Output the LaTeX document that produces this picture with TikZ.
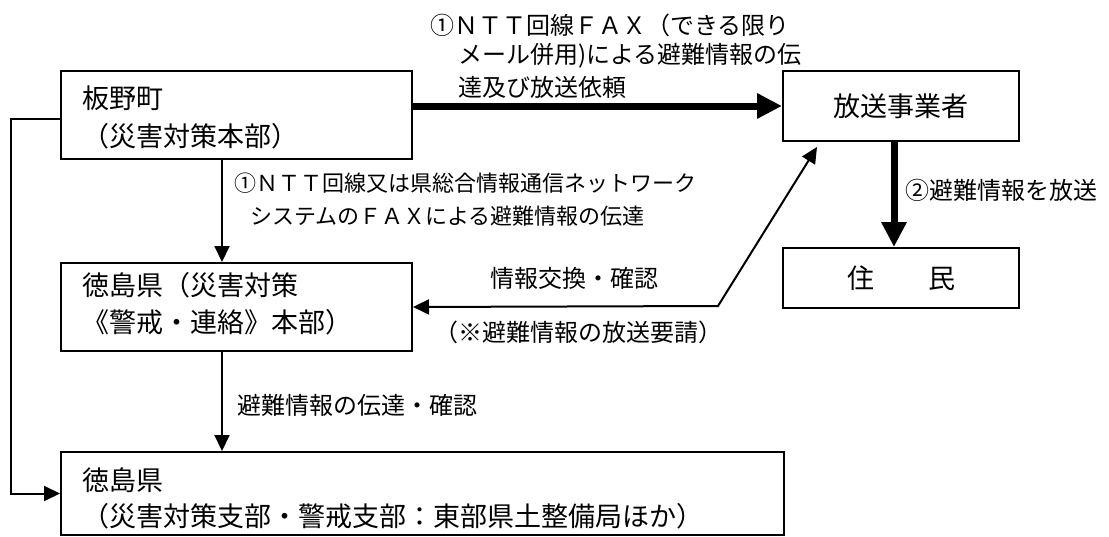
\documentclass[tikz,border=0pt]{standalone}
\usepackage{fontspec}
\newfontfamily\jp{Noto Sans CJK JP}
\usetikzlibrary{arrows.meta}
\begin{document}
\begin{tikzpicture}[x=1pt,y=-1pt,
  box/.style={draw, line width=2pt, anchor=north west, inner sep=0pt},
  btxt/.style={font=\jp\fontsize{27}{27}\selectfont, inner sep=0pt, anchor=west},
  ltxt/.style={font=\jp\fontsize{24}{24}\selectfont, inner sep=0pt, anchor=west},
  stxt/.style={font=\jp\fontsize{22}{22}\selectfont, inner sep=0pt, anchor=west},
  thinarr/.style={line width=2pt, -{Triangle[length=16pt,width=15pt]}},
  bigarr/.style={line width=7pt, -{Triangle[length=25pt,width=24pt]}},
]
\useasboundingbox (0,0) rectangle (1109,536);
% boxes
\node[box, minimum width=351pt, minimum height=88pt] (b1) at (60,70) {};
\node[btxt] (b1a) at (82,98) {板野町};
\node[btxt] (b1b) at (82,136) {（災害対策本部）};
\node[box, minimum width=351pt, minimum height=88pt] (b2) at (60,262) {};
\node[btxt] (b2a) at (82,285) {徳島県（災害対策};
\node[btxt] (b2b) at (82,322) {《警戒・連絡》本部）};
\node[box, minimum width=723pt, minimum height=83pt] (b3) at (60,451) {};
\node[btxt] (b3a) at (82,480) {徳島県};
\node[btxt] (b3b) at (82,516) {（災害対策支部・警戒支部：東部県土整備局ほか）};
\node[box, minimum width=236pt, minimum height=70pt, font=\jp\fontsize{27}{27}\selectfont] (h) at (782,70) {放送事業者};
\node[box, minimum width=236pt, minimum height=60pt, font=\jp\fontsize{27}{27}\selectfont] (j) at (782,247) {住　　民};
% helper coordinates
\coordinate (vx) at (222,0);
\coordinate (dx) at (894,0);
\coordinate (lx) at (11,119);
\coordinate (bend) at (718,306);
\coordinate (tip) at (817,147);
% connectors
\draw[bigarr] (b1.east |- h.west) -- (h.west);
\draw[bigarr] (h.south -| dx) -- (j.north -| dx);
\draw[thinarr] (b1.south -| vx) -- (b2.north -| vx);
\draw[thinarr] (b2.south -| vx) -- (b3.north -| vx);
\draw[thinarr] (b1.west |- lx) -- (lx) |- (b3.west);
\draw[line width=2pt, {Triangle[length=16pt,width=15pt]}-{Triangle[length=16pt,width=15pt]}] (b2.east) -- (bend) -- (tip);
% labels
\node[ltxt] (t1) at (430,25) {①ＮＴＴ回線ＦＡＸ（できる限り};
\node[ltxt] (t2) at (458,56) {メール併用)による避難情報の伝};
\node[ltxt] (t3) at (458,87) {達及び放送依頼};
\node[stxt] (s1) at (234,183) {①ＮＴＴ回線又は県総合情報通信ネットワーク};
\node[stxt] (s2) at (250,216) {システムのＦＡＸによる避難情報の伝達};
\node[ltxt, anchor=center] (x1) at (574,278) {情報交換・確認};
\node[ltxt, anchor=center] (x2) at (578,332) {（※避難情報の放送要請）};
\node[ltxt] (d1) at (237,405) {避難情報の伝達・確認};
\node[ltxt] (r1) at (905,190) {②避難情報を放送};
\end{tikzpicture}
\end{document}
